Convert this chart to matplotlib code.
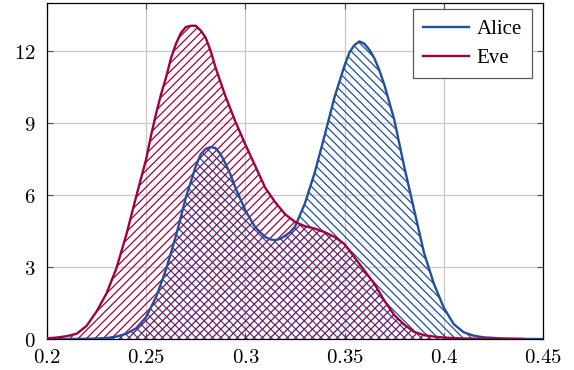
import matplotlib
matplotlib.use("Agg")
import matplotlib.pyplot as plt
from matplotlib.ticker import FixedLocator

plt.rcParams['mathtext.fontset'] = 'cm'
plt.rcParams['hatch.linewidth'] = 0.9

alice_x = [0.200, 0.210, 0.220, 0.225, 0.230, 0.235, 0.240, 0.245, 0.250, 0.255,
           0.260, 0.265, 0.270, 0.275, 0.2775, 0.280, 0.2825, 0.285, 0.2875, 0.290,
           0.2925, 0.295, 0.300, 0.305, 0.310, 0.3125, 0.315, 0.3175, 0.320, 0.3225,
           0.325, 0.330, 0.335, 0.340, 0.345, 0.350, 0.3525, 0.355, 0.3575, 0.360,
           0.3625, 0.365, 0.3675, 0.370, 0.375, 0.380, 0.385, 0.390, 0.395,
           0.400, 0.405, 0.410, 0.415, 0.420, 0.430, 0.440, 0.450]
alice_y = [0.0, 0.0, 0.01, 0.02, 0.04, 0.10, 0.22, 0.45, 0.92, 1.75,
           2.9, 4.3, 5.9, 7.2, 7.7, 7.92, 8.0, 7.95, 7.7, 7.3,
           6.85, 6.3, 5.35, 4.65, 4.25, 4.15, 4.12, 4.17, 4.3, 4.45,
           4.68, 5.65, 6.95, 8.5, 10.1, 11.4, 11.95, 12.25, 12.4, 12.3,
           12.05, 11.7, 11.2, 10.6, 9.15, 7.2, 5.4, 3.6, 2.3,
           1.3, 0.62, 0.28, 0.14, 0.07, 0.02, 0.005, 0.0]

eve_x = [0.200, 0.205, 0.210, 0.215, 0.220, 0.225, 0.230, 0.235, 0.240, 0.245,
         0.250, 0.2525, 0.255, 0.2575, 0.260, 0.2625, 0.265, 0.2675, 0.270, 0.2725,
         0.275, 0.2775, 0.280, 0.2825, 0.285, 0.2875, 0.290, 0.295, 0.300, 0.305,
         0.310, 0.315, 0.320, 0.325, 0.330, 0.335, 0.340, 0.345, 0.350, 0.355,
         0.360, 0.365, 0.370, 0.375, 0.380, 0.385, 0.390, 0.395, 0.400, 0.405,
         0.410, 0.420, 0.440]
eve_y = [0.03, 0.06, 0.12, 0.22, 0.55, 1.15, 1.9, 2.95, 4.35, 5.95,
         7.5, 8.5, 9.4, 10.2, 10.9, 11.7, 12.3, 12.75, 13.0, 13.05,
         13.05, 12.85, 12.55, 12.0, 11.3, 10.7, 10.1, 9.05, 8.1, 7.2,
         6.3, 5.7, 5.2, 4.88, 4.7, 4.6, 4.45, 4.25, 3.95, 3.4,
         2.85, 2.3, 1.6, 1.0, 0.6, 0.3, 0.16, 0.1, 0.06, 0.04,
         0.02, 0.01, 0.0]

x_ticks = [0.2, 0.25, 0.3, 0.35, 0.4, 0.45]
x_tick_labels = ["0.2", "0.25", "0.3", "0.35", "0.4", "0.45"]
y_ticks = [0, 3, 6, 9, 12]
y_tick_labels = ["0", "3", "6", "9", "12"]

alice_color = '#1f4fa0'
eve_color = '#a00040'

fig = plt.figure(figsize=(5.74, 3.70), dpi=100)
ax = fig.add_axes([47/574, 31/370, 496/574, 336/370])

ax.fill_between(alice_x, alice_y, 0, facecolor='none', edgecolor=alice_color,
                hatch='\\\\\\\\', linewidth=0, zorder=2)
line_a, = ax.plot(alice_x, alice_y, color=alice_color, lw=1.7, zorder=3,
                  label='Alice', solid_joinstyle='round')
ax.fill_between(eve_x, eve_y, 0, facecolor='none', edgecolor=eve_color,
                hatch='////', linewidth=0, zorder=2)
line_e, = ax.plot(eve_x, eve_y, color=eve_color, lw=1.7, zorder=3,
                  label='Eve', solid_joinstyle='round')

ax.set_xlim(0.2, 0.45)
ax.set_ylim(0, 14)
ax.xaxis.set_major_locator(FixedLocator(x_ticks))
ax.yaxis.set_major_locator(FixedLocator(y_ticks))
ax.set_xticklabels(["$" + t + "$" for t in x_tick_labels])
ax.set_yticklabels(["$" + t + "$" for t in y_tick_labels])
ax.tick_params(direction='in', length=4, width=0.8, color='0.3', labelsize=15,
               top=True, right=True)
ax.tick_params(axis='x', pad=6)
ax.tick_params(axis='y', pad=8)
ax.grid(True, color='#c8c8c8', lw=0.9, zorder=0)
ax.set_axisbelow(True)
for s in ax.spines.values():
    s.set_color('black')
    s.set_linewidth(0.9)

leg = ax.legend(handles=[line_a, line_e], loc='upper right',
                bbox_to_anchor=(532/574, 361/370), bbox_transform=fig.transFigure,
                prop={'family': 'Liberation Serif', 'size': 15}, fancybox=False,
                framealpha=1, edgecolor='0.35', handlelength=2.2, handletextpad=0.35,
                borderpad=0.5, labelspacing=0.45, borderaxespad=0)
leg.get_frame().set_linewidth(0.9)

fig.savefig('out.png', dpi=100)
